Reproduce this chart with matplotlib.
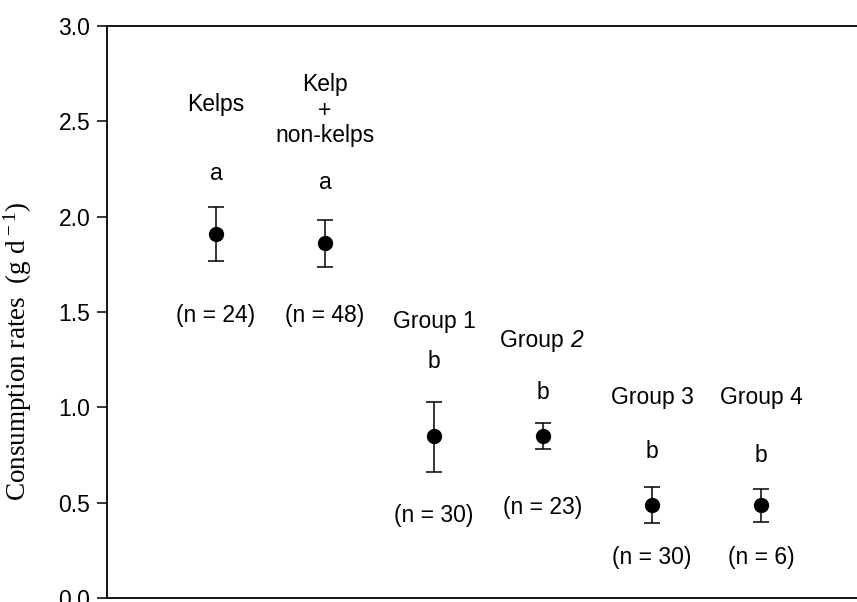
import matplotlib
matplotlib.use("Agg")
import matplotlib.pyplot as plt

plt.rcParams['font.family'] = ['Liberation Sans', 'DejaVu Sans']
plt.rcParams['mathtext.fontset'] = 'custom'
plt.rcParams['mathtext.rm'] = 'Liberation Serif'
plt.rcParams['mathtext.it'] = 'Liberation Serif:italic'

# Data
groups = ["Kelps", "Kelp\n+\nnon-kelps", "Group 1", "Group ", "Group 3", "Group 4"]
group_suffix_italic = ["", "", "", "2", "", ""]
means = [1.91, 1.86, 0.85, 0.85, 0.49, 0.49]
err_upper = [2.05, 1.98, 1.03, 0.92, 0.58, 0.57]
err_lower = [1.77, 1.735, 0.66, 0.78, 0.395, 0.40]
letters = ["a", "a", "b", "b", "b", "b"]
n_labels = ["(n = 24)", "(n = 48)", "(n = 30)", "(n = 23)", "(n = 30)", "(n = 6)"]
yticks = [0.0, 0.5, 1.0, 1.5, 2.0, 2.5, 3.0]

# annotation positions (data y)
name_y = [2.586, 2.559, 1.448, 1.353, 1.049, 1.049]
letter_y = [2.224, 2.177, 1.238, 1.080, 0.766, 0.750]
n_y = [1.484, 1.484, 0.435, 0.477, 0.210, 0.210]

fig = plt.figure(figsize=(8.57, 6.02), dpi=100)
ax = fig.add_axes([107/857, 1-598/602, 750/857, 572/602])

x = list(range(1, len(means) + 1))
yerr = [[m - l for m, l in zip(means, err_lower)], [u - m for m, u in zip(means, err_upper)]]
ax.errorbar(x, means, yerr=yerr, fmt='o', color='black', markersize=10,
            ecolor='black', elinewidth=1.1, capsize=5.5, capthick=1.1)

fs = 16.5
for xi, g, suf, ny in zip(x, groups, group_suffix_italic, name_y):
    if suf:
        t = ax.text(xi - 0.07, ny, g, ha='center', va='center', fontsize=fs)
        ax.annotate(suf, xy=(1, 0.5), xycoords=t, ha='left', va='center',
                    fontsize=fs, style='italic')
    else:
        ax.text(xi, ny, g, ha='center', va='center', fontsize=fs, linespacing=1.15)
for xi, l, ly in zip(x, letters, letter_y):
    ax.text(xi, ly, l, ha='center', va='center', fontsize=fs)
for xi, nl, nyy in zip(x, n_labels, n_y):
    ax.text(xi, nyy, nl, ha='center', va='center', fontsize=fs)

ax.set_xlim(0, 750/109)
ax.set_ylim(0, 3.0)
ax.set_yticks(yticks)
ax.set_yticklabels([f"{t:.1f}" for t in yticks], fontsize=fs)
ax.set_xticks([])
ax.tick_params(axis='y', direction='out', length=7, width=1.1, pad=5)
for s in ['left', 'top', 'bottom']:
    ax.spines[s].set_linewidth(1.3)
ax.spines['right'].set_visible(False)

ax.set_ylabel("Consumption rates  (g d$^{\\,-1}$)", fontsize=19.5,
              family=['Liberation Serif', 'DejaVu Serif'])
ax.yaxis.set_label_coords(-0.0973, 0.431)

fig.savefig("out.png", dpi=100)
